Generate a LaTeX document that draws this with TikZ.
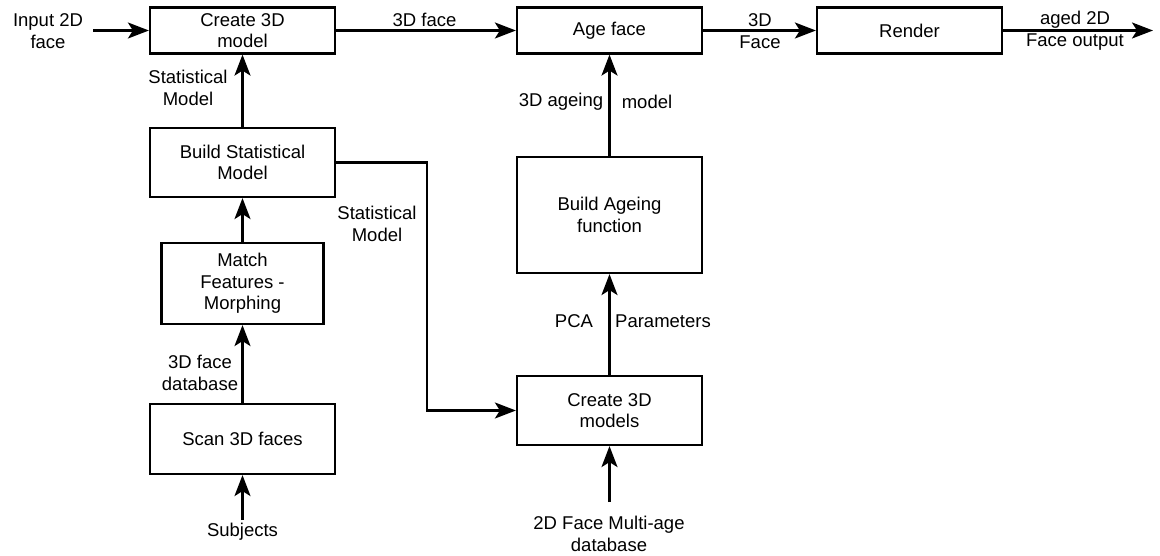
\documentclass[tikz,border=0pt]{standalone}
\usepackage{fontspec}
\setmainfont{Liberation Sans}
\usetikzlibrary{arrows.meta}

\begin{document}
\begin{tikzpicture}[x=1pt, y=-1pt, >={Stealth[length=21pt,width=16pt,inset=5pt]},
  line width=2.2pt, font=\fontsize{18.5}{21.7}\selectfont,
  box/.style={draw, line width=2.2pt, minimum width=185pt, align=center, inner sep=0pt},
  lab/.style={align=center, inner sep=0pt}]
\useasboundingbox (0,0) rectangle (1160,556);
% top row
\node[box, minimum height=46pt] (c3d) at (242.5,30.5) {Create 3D\\ model};
\node[box, minimum height=46pt] (age) at (609.5,30.5) {Age face};
\node[box, minimum height=46pt] (render) at (909.5,30.5) {Render};
% left column
\node[box, minimum height=69pt] (bstat) at (242.5,162.5) {Build Statistical\\ Model};
\node[box, minimum width=162pt, minimum height=81pt] (match) at (242.5,283.5) {Match\\ Features -\\ Morphing};
\node[box, minimum height=70pt] (scan) at (242.5,439) {Scan 3D faces};
% right column
\node[box, minimum height=116pt] (bage) at (609.5,215) {Build Ageing\\ function};
\node[box, minimum height=69pt] (c3dm) at (609.5,410.5) {Create 3D\\ models};
% free ends
\coordinate (inp) at (93,30.5);
\coordinate (outp) at (1153,30.5);
\coordinate (subj) at (242.5,520);
\coordinate (mdb) at (609.5,502);
\coordinate (bend) at (427,162.5);
% connectors
\draw[->] (inp) -- (c3d);
\draw[->] (c3d) -- (age);
\draw[->] (age) -- (render);
\draw[->] (render) -- (outp);
\draw[->] (bstat) -- (c3d);
\draw[->] (match) -- (bstat);
\draw[->] (scan) -- (match);
\draw[->] (subj) -- (scan);
\draw[->] (bstat.east) -- (bend) |- (c3dm.west);
\draw[->] (mdb) -- (c3dm);
\draw[->] (c3dm) -- (bage);
\draw[->] (bage) -- (age);
% labels
\node[lab] (linp) at (48,31) {Input 2D\\ face};
\node[lab] (l3df) at (424.5,20) {3D face};
\node[lab] (l3dF) at (760,31) {3D\\ Face};
\node[lab] (lout) at (1075,31) {aged 2D\\ Face output};
\node[lab] (lsm1) at (188,88) {Statistical\\ Model};
\node[lab] (lsm2) at (377,224) {Statistical\\ Model};
\node[lab] (ldb) at (200,373) {3D face\\ database};
\node[lab] (lsubj) at (242.5,532) {Subjects};
\node[lab] (lagm1) at (561,102) {3D ageing};
\node[lab] (lagm2) at (647,102) {model};
\node[lab] (lpca) at (574,321) {PCA};
\node[lab] (lpar) at (663,321) {Parameters};
\node[lab] (lmdb) at (609,534) {2D Face Multi-age\\ database};
\end{tikzpicture}
\end{document}
